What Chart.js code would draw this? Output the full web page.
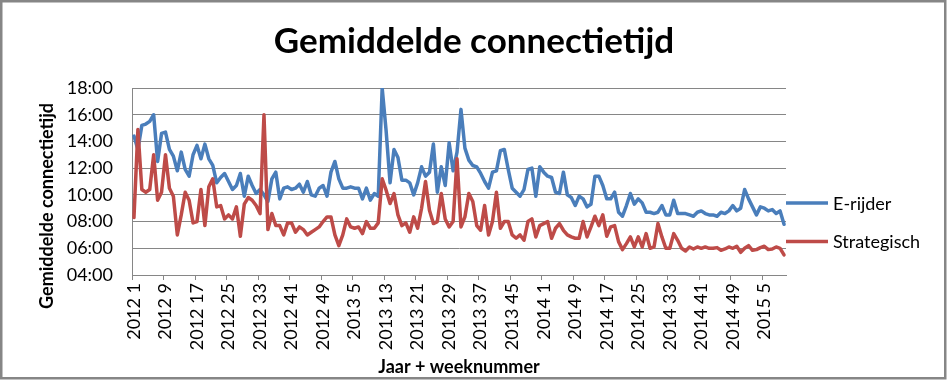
<!DOCTYPE html>
<html>
<head>
<meta charset="utf-8">
<script src="https://cdn.jsdelivr.net/npm/chart.js@4/dist/chart.umd.min.js"></script>
<style>
  html, body { margin: 0; padding: 0; background: #fff; }
  #wrap { width: 948px; height: 381px; }
</style>
</head>
<body>
<div id="wrap"><canvas id="chart" width="948" height="381"></canvas></div>
<script>
// years and number of weeks shown per year (x categories are "year week")
const years = [2012, 2013, 2014, 2015];
const weeksInYear = [52, 52, 52, 10];

// average connection time in hours, one value per week
const eRijder = [
  14.4, 13.4, 15.2, 15.3, 15.5, 16.0, 12.5, 14.6, 14.7, 13.4,
  12.9, 11.8, 13.2, 11.9, 11.4, 13.0, 13.7, 12.7, 13.8, 12.7,
  12.2, 10.9, 11.3, 11.6, 11.0, 10.4, 10.7, 11.6, 9.9, 11.4,
  10.7, 10.1, 10.4, 10.0, 9.5, 11.2, 11.7, 9.7, 10.5, 10.6,
  10.4, 10.5, 10.8, 10.2, 11.0, 10.0, 9.9, 10.5, 10.7, 9.9,
  11.7, 12.5, 11.2, 10.5, 10.5, 10.6, 10.5, 10.5, 9.7, 10.5,
  9.6, 10.1, 9.9, 18.0, 14.8, 10.9, 13.4, 12.8, 11.1, 11.1,
  10.9, 10.0, 10.9, 12.1, 11.4, 11.7, 13.8, 10.2, 12.1, 10.7,
  13.9, 11.8, 13.2, 16.4, 13.5, 12.6, 12.2, 12.1, 11.6, 11.0,
  10.5, 11.7, 11.8, 13.3, 13.4, 11.9, 10.5, 10.2, 9.9, 10.4,
  11.9, 12.0, 9.9, 12.1, 11.7, 11.4, 11.3, 10.2, 10.1, 11.7,
  10.0, 9.8, 9.2, 9.9, 9.7, 9.1, 9.3, 11.4, 11.4, 10.7,
  9.7, 9.7, 10.2, 8.7, 8.4, 9.2, 10.1, 9.3, 9.7, 9.4,
  8.7, 8.7, 8.6, 8.7, 9.2, 8.5, 8.5, 9.6, 8.6, 8.6,
  8.6, 8.5, 8.4, 8.7, 8.8, 8.6, 8.5, 8.5, 8.4, 8.7,
  8.6, 8.8, 9.2, 8.8, 9.0, 10.4, 9.7, 9.1, 8.5, 9.1,
  9.0, 8.8, 8.9, 8.6, 8.8, 7.8
];
const strategisch = [
  8.3, 14.9, 10.4, 10.2, 10.4, 13.0, 9.6, 10.2, 13.0, 10.5,
  9.9, 7.0, 8.5, 10.2, 9.6, 7.9, 8.0, 10.4, 7.7, 10.6,
  11.2, 9.1, 9.2, 8.2, 8.5, 8.2, 9.1, 6.9, 9.3, 9.8,
  9.6, 9.2, 8.6, 16.0, 7.4, 8.6, 7.7, 7.7, 7.0, 7.9,
  7.9, 7.2, 7.6, 7.4, 7.0, 7.2, 7.4, 7.6, 8.0, 8.35,
  8.35, 7.0, 6.2, 7.0, 8.2, 7.6, 7.5, 7.6, 7.1, 8.0,
  7.5, 7.5, 7.9, 11.2, 10.35, 9.35, 10.1, 8.5, 7.7, 7.9,
  7.2, 8.35, 7.5, 9.0, 11.0, 8.85, 7.85, 8.0, 10.1, 8.2,
  7.6, 8.0, 12.7, 7.6, 8.35, 10.1, 9.5, 7.7, 7.35, 9.2,
  7.0, 8.0, 10.2, 7.5, 8.0, 8.0, 7.0, 6.75, 7.0, 6.6,
  8.0, 8.2, 6.85, 7.7, 7.85, 8.0, 6.75, 7.5, 7.85, 7.35,
  7.0, 6.85, 6.75, 6.75, 8.0, 6.85, 7.6, 8.4, 7.7, 8.5,
  6.9, 7.6, 7.7, 6.5, 5.9, 6.35, 6.85, 6.1, 6.85, 6.1,
  7.1, 6.0, 6.1, 7.85, 6.85, 6.0, 6.0, 7.1, 6.6, 6.0,
  5.8, 6.1, 5.95, 6.1, 6.0, 6.1, 6.0, 6.0, 6.05, 5.85,
  5.95, 6.1, 6.0, 6.15, 5.7, 6.0, 6.2, 5.85, 5.9, 6.05,
  6.15, 5.9, 5.95, 6.1, 6.0, 5.5
];

// y axis range (hours) and label every n-th week
const yMin = 4, yMax = 18, yStep = 2;
const labelEvery = 8;

const weekLabels = [];
years.forEach((yr, k) => {
  for (let w = 1; w <= weeksInYear[k]; w++) weekLabels.push(yr + ' ' + w);
});

const gray = '#868686';
Chart.defaults.font.family = 'Lato, "DejaVu Sans", sans-serif';

// white background + frame round the whole chart
const framePlugin = {
  id: 'frame',
  beforeDraw(chart) {
    const ctx = chart.ctx;
    ctx.save();
    ctx.fillStyle = '#fff';
    ctx.fillRect(0, 0, chart.width, chart.height);
    ctx.strokeStyle = gray;
    ctx.lineWidth = 2.5;
    ctx.strokeRect(1.25, 1.25, 944, 377);
    ctx.restore();
  }
};

// y axis title (Excel centres it a bit lower than the plot) + legend on the right
const sidePlugin = {
  id: 'side',
  afterDraw(chart) {
    const ctx = chart.ctx;
    ctx.save();
    ctx.fillStyle = '#000';
    ctx.font = 'bold 18px Lato, "DejaVu Sans", sans-serif';
    ctx.translate(47, 206);
    ctx.rotate(-Math.PI / 2);
    ctx.textAlign = 'center';
    ctx.textBaseline = 'middle';
    ctx.fillText('Gemiddelde connectietijd', 0, 0);
    ctx.restore();

    ctx.save();
    const x0 = chart.chartArea.right;
    ctx.font = '18px Lato, "DejaVu Sans", sans-serif';
    ctx.textBaseline = 'middle';
    chart.data.datasets.forEach((ds, k) => {
      const y = 203 + k * 38.5;
      ctx.strokeStyle = ds.borderColor;
      ctx.lineWidth = 3.5;
      ctx.beginPath();
      ctx.moveTo(x0, y);
      ctx.lineTo(x0 + 42, y);
      ctx.stroke();
      ctx.fillStyle = '#000';
      ctx.fillText(ds.label, x0 + 47, y + 1);
    });
    ctx.restore();
  }
};

const ctx = document.getElementById('chart').getContext('2d');
const chart = new Chart(ctx, {
  type: 'line',
  data: {
    labels: weekLabels,
    datasets: [
      {
        label: 'E-rijder',
        data: eRijder,
        borderColor: '#4a7ebb',
        backgroundColor: '#4a7ebb',
        borderWidth: 3.5,
        pointRadius: 0,
        tension: 0,
        borderJoinStyle: 'round',
        borderCapStyle: 'round',
        order: 2
      },
      {
        label: 'Strategisch',
        data: strategisch,
        borderColor: '#be4b48',
        backgroundColor: '#be4b48',
        borderWidth: 3.5,
        pointRadius: 0,
        tension: 0,
        borderJoinStyle: 'round',
        borderCapStyle: 'round',
        order: 1
      }
    ]
  },
  options: {
    responsive: false,
    animation: false,
    devicePixelRatio: 1,
    layout: { padding: 0 },
    plugins: {
      legend: { display: false },
      tooltip: { enabled: false },
      title: {
        display: true,
        text: 'Gemiddelde connectietijd',
        color: '#000',
        font: { size: 35, weight: 'bold' },
        padding: { top: 21, bottom: 25 }
      }
    },
    scales: {
      x: {
        offset: true,
        afterFit: s => { s.height = 381 - 275; },
        grid: {
          display: true,
          drawOnChartArea: false,
          drawTicks: true,
          tickLength: 5,
          offset: true,
          color: c => (c.index % labelEvery === 0 ? gray : 'rgba(0,0,0,0)')
        },
        border: { display: true, color: gray },
        ticks: {
          autoSkip: false,
          maxRotation: 90,
          minRotation: 90,
          padding: 3,
          color: '#000',
          font: { size: 18 },
          callback: function (val, idx) {
            return idx % labelEvery === 0 ? this.getLabelForValue(val) : '';
          }
        },
        title: {
          display: true,
          text: 'Jaar + weeknummer',
          color: '#000',
          font: { size: 18, weight: 'bold' },
          padding: { top: 0, bottom: 3 }
        }
      },
      y: {
        min: yMin,
        max: yMax,
        afterFit: s => { s.width = 132; },
        grid: { color: gray, drawTicks: false },
        border: { display: true, color: gray },
        ticks: {
          stepSize: yStep,
          padding: 19,
          color: '#000',
          font: { size: 18 },
          callback: v => String(v).padStart(2, '0') + ':00'
        }
      },
      // empty strip on the right that holds the legend
      side: {
        position: 'right',
        afterFit: s => { s.width = 948 - 786; },
        grid: { display: false },
        border: { display: false },
        ticks: { display: false }
      }
    }
  },
  plugins: [framePlugin, sidePlugin]
});
</script>
</body>
</html>
